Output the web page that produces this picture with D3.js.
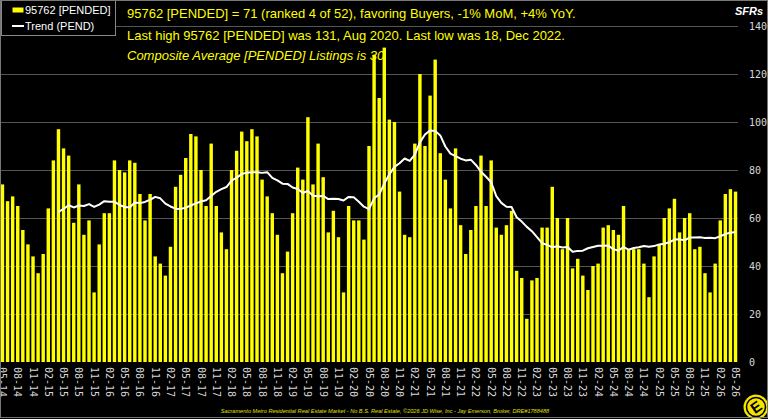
<!DOCTYPE html>
<html>
<head>
<meta charset="utf-8">
<script src="https://cdn.jsdelivr.net/npm/d3@7"></script>
<style>
  html, body { margin: 0; padding: 0; background: #000; }
  svg { display: block; }
</style>
</head>
<body>
<svg id="chart" width="768" height="419"></svg>
<script>
/*
** Data
*/
var firstMonth = "2014-05"
  , lastMonth = "2026-05"
  , seriesName = "95762 [PENDED]"
  , trendName = "Trend (PEND)"
  , pended = [
        74, 67, 69, 65, 55, 49, 44, 37, 45, 64, 84, 97          // 05-14 .. 04-15
      , 89, 86, 58, 74, 53, 59, 29, 49, 62, 62, 84, 80          // 05-15 .. 04-16
      , 79, 84, 83, 70, 59, 70, 44, 41, 36, 48, 73, 78          // 05-16 .. 04-17
      , 85, 95, 94, 80, 65, 91, 65, 54, 47, 80, 88, 96          // 05-17 .. 04-18
      , 92, 97, 94, 76, 69, 62, 53, 37, 46, 62, 81, 76          // 05-18 .. 04-19
      , 102, 74, 91, 77, 54, 63, 52, 29, 65, 59, 59, 51         // 05-19 .. 04-20
      , 90, 128, 110, 131, 101, 100, 71, 53, 52, 91, 120, 90    // 05-20 .. 04-21
      , 111, 126, 87, 76, 64, 89, 57, 45, 55, 65, 86, 65        // 05-21 .. 04-22
      , 84, 56, 53, 57, 63, 38, 35, 18, 34, 35, 56, 56          // 05-22 .. 04-23
      , 73, 60, 47, 60, 39, 43, 36, 30, 40, 41, 56, 57          // 05-23 .. 04-24
      , 55, 53, 65, 47, 47, 47, 41, 27, 44, 49, 60, 64          // 05-24 .. 04-25
      , 68, 54, 60, 62, 47, 48, 37, 29, 41, 59, 70, 72          // 05-25 .. 04-26
      , 71                                                      // 05-26
    ]
  , trendStart = 11   // trend line begins at 04-15
  , trend = [
        62.5, 63.8, 65.3, 64.4, 65.2, 65.0, 65.8, 64.6, 65.6, 67.0, 66.8, 66.8
      , 65.4, 64.6, 64.4, 66.5, 66.2, 66.7, 67.6, 68.8, 68.2, 66.0, 64.8, 63.9
      , 63.8, 64.3, 65.2, 66.1, 66.9, 67.4, 69.2, 70.9, 72.0, 72.9, 75.6, 76.8
      , 78.3, 78.9, 79.1, 79.1, 78.8, 79.1, 76.7, 75.7, 74.3, 74.2, 72.7, 72.1
      , 70.4, 71.3, 69.3, 69.1, 69.2, 67.9, 68.0, 67.9, 67.3, 68.8, 68.6, 66.8
      , 64.7, 63.7, 68.2, 69.8, 74.3, 78.2, 81.3, 82.8, 84.8, 83.8, 86.4, 91.5
      , 94.8, 96.5, 96.3, 94.4, 89.8, 86.8, 85.8, 84.7, 84.0, 84.3, 82.1, 79.3
      , 77.2, 74.9, 69.1, 66.3, 64.7, 64.6, 60.3, 58.5, 56.3, 54.5, 52.0, 49.5
      , 48.8, 47.8, 48.2, 47.7, 47.9, 45.9, 46.3, 46.4, 47.4, 47.9, 48.4, 48.4
      , 48.5, 47.0, 46.4, 47.9, 46.8, 47.5, 47.8, 48.3, 48.0, 48.3, 49.0, 49.3
      , 49.9, 51.0, 51.1, 50.7, 51.9, 51.9, 52.0, 51.7, 51.8, 51.6, 52.4, 53.3
      , 53.9, 54.2
    ]
  , yTicks = [0, 20, 40, 60, 80, 100, 120, 140]
  , headlines = [
        "95762 [PENDED] = 71 (ranked 4 of 52), favoring Buyers, -1% MoM, +4% YoY."
      , "Last high 95762 [PENDED] was 131, Aug 2020. Last low was 18, Dec 2022."
      , "Composite Average [PENDED] Listings is 30"
    ]
  , footer = "Sacramento Metro Residential Real Estate Market - No B.S. Real Estate, \u00a92026 JD Wise, Inc - Jay Emerson, Broker, DRE#1788488"
;

/*
** Setup
*/
var svg = d3.select("#chart")
  , width = 768
  , height = 419
  , plot = { left: 0, right: 738, top: 26, bottom: 362 }
  , yellow = "#ffff00"
  , parse = d3.timeParse("%Y-%m")
  , fmt = d3.timeFormat("%m-%y")
  , months = d3.timeMonth.range(parse(firstMonth), d3.timeMonth.offset(parse(lastMonth), 1))
  , labels = months.map(fmt)
  , x = d3.scaleBand()
      .domain(labels)
      .range([plot.left, plot.right])
      .paddingInner(0.33)
      .paddingOuter(0.15)
  , y = d3.scaleLinear()
      .domain([0, 140])
      .range([plot.bottom, plot.top])
;

svg.append("rect")
    .attr("width", width)
    .attr("height", height)
    .attr("fill", "#000")
;

/*
** Gridlines
*/
svg.append("g")
    .attr("class", "grid")
  .selectAll("line")
  .data(yTicks.filter(function(d) { return d > 0; }))
  .join("line")
    .attr("x1", plot.left)
    .attr("x2", plot.right)
    .attr("y1", function(d) { return Math.round(y(d)) + 0.5; })
    .attr("y2", function(d) { return Math.round(y(d)) + 0.5; })
    .attr("stroke", "#555")
    .attr("stroke-width", 1)
;

/*
** Bars
*/
svg.append("g")
    .attr("class", "bars")
  .selectAll("rect")
  .data(pended)
  .join("rect")
    .attr("x", function(d, i) { return x(labels[i]); })
    .attr("width", x.bandwidth())
    .attr("y", function(d) { return y(d); })
    .attr("height", function(d) { return y(0) - y(d); })
    .attr("fill", yellow)
;

/*
** Trend line
*/
var line = d3.line()
    .x(function(d, i) { return x(labels[i + trendStart]) + x.bandwidth() / 2; })
    .y(function(d) { return y(d); })
;
svg.append("path")
    .datum(trend)
    .attr("d", line)
    .attr("fill", "none")
    .attr("stroke", "#fff")
    .attr("stroke-width", 2)
    .attr("stroke-linejoin", "round")
;

/*
** Axes
*/
var xAxis = d3.axisBottom(x)
    .tickValues(labels.filter(function(d, i) { return i % 3 === 0; }))
    .tickSize(0)
    .tickPadding(0)
;
svg.append("g")
    .attr("transform", "translate(0," + plot.bottom + ")")
    .call(xAxis)
    .call(function(g) { g.select(".domain").remove(); })
  .selectAll("text")
    .attr("transform", "rotate(90)")
    .attr("x", 5)
    .attr("y", 0)
    .attr("dy", "0.35em")
    .style("text-anchor", "start")
    .attr("fill", "#d8d8d8")
    .attr("font-family", "DejaVu Sans Mono, monospace")
    .attr("font-size", "10px")
;

var yAxis = d3.axisRight(y)
    .tickValues(yTicks)
    .tickSize(0)
    .tickPadding(0)
;
svg.append("g")
    .attr("transform", "translate(749,0)")
    .call(yAxis)
    .call(function(g) { g.select(".domain").remove(); })
  .selectAll("text")
    .attr("fill", "#d8d8d8")
    .attr("font-family", "DejaVu Sans Mono, monospace")
    .attr("font-size", "10px")
;

svg.append("text")
    .attr("x", 763)
    .attr("y", 15)
    .attr("text-anchor", "end")
    .attr("fill", "#fff")
    .attr("font-family", "Liberation Sans, Arial, sans-serif")
    .attr("font-size", "11px")
    .attr("font-weight", "bold")
    .attr("font-style", "italic")
    .text("SFRs")
;

/*
** Headlines
*/
svg.append("g")
  .selectAll("text")
  .data(headlines)
  .join("text")
    .attr("x", 127)
    .attr("y", function(d, i) { return [17.5, 39.5, 60][i]; })
    .attr("fill", yellow)
    .attr("font-family", "Liberation Sans, Arial, sans-serif")
    .attr("font-size", "13px")
    .attr("font-style", function(d, i) { return i === 2 ? "italic" : "normal"; })
    .text(function(d) { return d; })
;

/*
** Legend
*/
var legend = svg.append("g").attr("class", "legend");
legend.append("rect")
    .attr("x", 1.5)
    .attr("y", 0.5)
    .attr("width", 114)
    .attr("height", 35)
    .attr("fill", "#000")
    .attr("stroke", "#888")
;
legend.append("rect")
    .attr("x", 12.5)
    .attr("y", 7.5)
    .attr("width", 11)
    .attr("height", 5)
    .attr("fill", yellow)
;
legend.append("line")
    .attr("x1", 12)
    .attr("x2", 24)
    .attr("y1", 26)
    .attr("y2", 26)
    .attr("stroke", "#fff")
    .attr("stroke-width", 2)
;
legend.selectAll("text")
  .data([seriesName, trendName])
  .join("text")
    .attr("x", 25)
    .attr("y", function(d, i) { return 14 + i * 16; })
    .attr("fill", "#fff")
    .attr("font-family", "Liberation Sans, Arial, sans-serif")
    .attr("font-size", "11px")
    .text(function(d) { return d; })
;

/*
** Footer and logo
*/
svg.append("text")
    .attr("x", 385)
    .attr("y", 413)
    .attr("text-anchor", "middle")
    .attr("fill", "#e0e000")
    .attr("font-family", "Liberation Sans, Arial, sans-serif")
    .attr("font-size", "5.6px")
    .attr("font-style", "italic")
    .text(footer)
;

var logo = svg.append("g").attr("transform", "translate(756,407)");
logo.append("circle")
    .attr("r", 12.5)
    .attr("fill", "#f4e400")
;
logo.append("circle")
    .attr("r", 9.5)
    .attr("fill", "none")
    .attr("stroke", "#000")
    .attr("stroke-width", 1.5)
;
logo.append("text")
    .attr("transform", "rotate(-35)")
    .attr("text-anchor", "middle")
    .attr("dy", "0.36em")
    .attr("fill", "#000")
    .attr("font-family", "Liberation Sans, Arial, sans-serif")
    .attr("font-size", "15px")
    .attr("font-weight", "bold")
    .text("E")
;

svg.append("rect")
    .attr("x", 0.5)
    .attr("y", 0.5)
    .attr("width", width - 1)
    .attr("height", height - 2)
    .attr("fill", "none")
    .attr("stroke", "#777")
;
</script>
</body>
</html>
